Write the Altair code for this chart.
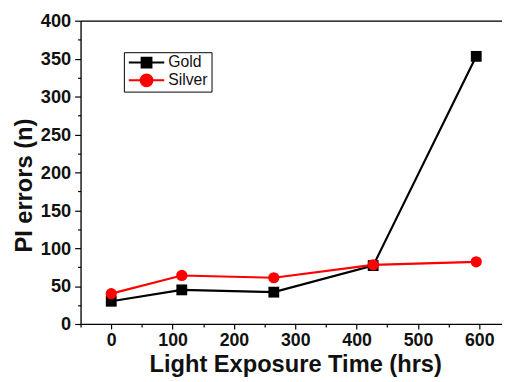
import altair as alt
import pandas as pd

times = [0, 115, 265, 427, 595]
gold = [30, 45, 42, 77, 353]
silver = [40, 64, 61, 78, 82]
series = ["Gold", "Silver"]
colors = ["#000000", "#ff0000"]
shapes = ["square", "circle"]
legend_shapes = [
    "M-3.6,0H3.6M-1,-1H1V1H-1Z",
    "M-3.6,0H3.6M1.2,0A1.2,1.2,0,1,1,-1.2,0A1.2,1.2,0,1,1,1.2,0Z",
]
x_major = [0, 100, 200, 300, 400, 500, 600]
x_minor = [-50, 50, 150, 250, 350, 450, 550]
y_major = [0, 50, 100, 150, 200, 250, 300, 350, 400]
y_minor = [25, 75, 125, 175, 225, 275, 325, 375]
x_title = "Light Exposure Time (hrs)"
y_title = "PI errors (n)"

rows = []
for name, vals in zip(series, [gold, silver]):
    for t, v in zip(times, vals):
        rows.append({"time": t, "value": v, "series": name})
df = pd.DataFrame(rows)

FONT = "Liberation Sans"
INK = "#111111"

x_scale = alt.Scale(domain=[-50, 637], nice=False, zero=False)
y_scale = alt.Scale(domain=[0, 400], nice=False)

x_axis = alt.Axis(
    values=sorted(x_major + x_minor),
    labelExpr="datum.value % 100 === 0 ? datum.label : ''",
    tickSize={"condition": {"test": "datum.value % 100 !== 0", "value": 3}, "value": 5},
    labelOverlap=False,
    grid=False,
    format="d",
    labelFont=FONT, labelFontSize=18, labelFontWeight="bold", labelColor=INK,
    labelPadding=3,
    title=x_title, titleFont=FONT, titleFontSize=24, titleFontWeight="bold",
    titleColor=INK, titleX=218, titleY=29.5,
    domainColor="#000000", domainWidth=1.3, tickColor="#000000", tickWidth=1.2,
)
y_axis = alt.Axis(
    values=sorted(y_major + y_minor),
    labelExpr="datum.value % 50 === 0 ? datum.label : ''",
    tickSize={"condition": {"test": "datum.value % 50 !== 0", "value": 3}, "value": 6},
    labelOverlap=False,
    grid=False,
    format="d",
    labelFont=FONT, labelFontSize=18.5, labelFontWeight="bold", labelColor=INK,
    labelPadding=4,
    title=y_title, titleFont=FONT, titleFontSize=24, titleFontWeight="bold",
    titleColor=INK, titlePadding=4, titleY=167,
    domainColor="#000000", domainWidth=1.3, tickColor="#000000", tickWidth=1.2,
)
top_axis = alt.Axis(orient="top", labels=False, ticks=False, grid=False, title=None,
                    domainColor="#000000", domainWidth=1.3)

color_scale = alt.Scale(domain=series, range=colors)

lines = alt.Chart(df).mark_line(strokeWidth=2.2).encode(
    x=alt.X("time:Q", scale=x_scale, axis=x_axis),
    y=alt.Y("value:Q", scale=y_scale, axis=y_axis),
    color=alt.Color("series:N", scale=color_scale, legend=None),
    detail="series:N",
)

points = alt.Chart(df).mark_point(filled=True, opacity=1).encode(
    x=alt.X("time:Q", scale=x_scale, axis=top_axis),
    y=alt.Y("value:Q", scale=y_scale, axis=y_axis),
    color=alt.Color("series:N", scale=color_scale, legend=None),
    shape=alt.Shape("series:N", scale=alt.Scale(domain=series, range=shapes), legend=None),
    size=alt.Size("series:N", scale=alt.Scale(domain=series, range=[121, 130]), legend=None),
)

sym_color = alt.ExprRef(expr="datum.value === 'Gold' ? '#000000' : '#ff0000'")

leg = alt.Legend(
    orient="none", legendX=44, legendY=32, title=None,
    symbolSize=100, symbolStrokeWidth=2,
    symbolFillColor=sym_color, symbolStrokeColor=sym_color,
    labelFont=FONT, labelFontSize=16, labelColor=INK,
    labelOffset=14, symbolOffset=12, padding=3, rowPadding=1, clipHeight=15,
    strokeColor="#000000", fillColor="#ffffff",
)

legend_layer = alt.Chart(df).mark_point(filled=True, opacity=0).encode(
    x=alt.X("time:Q", scale=x_scale, axis=None),
    y=alt.Y("value:Q", scale=y_scale, axis=y_axis),
    fill=alt.Fill("series:N", scale=alt.Scale(domain=series, range=colors), legend=leg),
    stroke=alt.Stroke("series:N", scale=alt.Scale(domain=series, range=colors), legend=leg),
    shape=alt.Shape("series:N", scale=alt.Scale(domain=series, range=legend_shapes), legend=leg),
)

chart = alt.layer(lines, points, legend_layer).resolve_axis(
    x="independent"
).resolve_scale(
    color="independent", shape="independent", stroke="independent",
    size="independent", fill="independent"
).properties(
    width=428, height=308,
    padding={"left": 73.7, "top": 10, "right": 0, "bottom": 56},
    autosize=alt.AutoSizeParams(type="none"),
).configure_view(stroke=None).configure(background="white")

chart.save("out.html", embed_options={"renderer": "svg", "actions": False})
